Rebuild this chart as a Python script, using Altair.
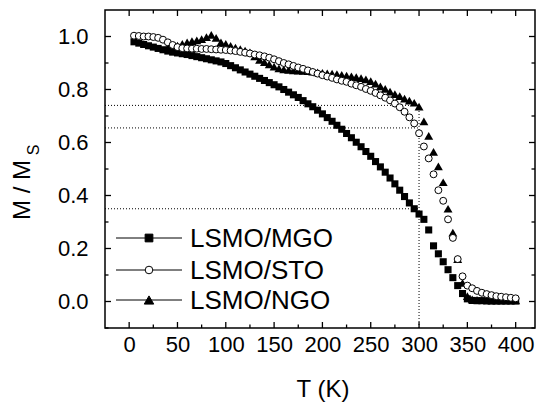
import altair as alt
import pandas as pd

# ---------------- data ----------------
T_MGO = [5, 10, 15, 20, 25, 30, 35, 40, 45, 50, 55, 60, 65, 70, 75, 80, 85, 90, 95, 100,
         105, 110, 115, 120, 125, 130, 135, 140, 145, 150, 155, 160, 165, 170, 175, 180,
         185, 190, 195, 200, 205, 210, 215, 220, 225, 230, 235, 240, 245, 250, 255, 260,
         265, 270, 275, 280, 285, 290, 295, 300, 305, 310, 315, 320, 325, 330, 335, 340,
         345, 350, 355, 360, 365, 370, 375, 380, 385, 390, 395, 400]
M_MGO = [0.980, 0.975, 0.970, 0.965, 0.960, 0.955, 0.950, 0.945, 0.941, 0.938, 0.935, 0.932,
         0.928, 0.924, 0.920, 0.916, 0.912, 0.908, 0.904, 0.898, 0.890, 0.882, 0.874, 0.866,
         0.858, 0.850, 0.842, 0.834, 0.826, 0.818, 0.810, 0.800, 0.790, 0.780, 0.770, 0.758,
         0.746, 0.735, 0.722, 0.708, 0.694, 0.680, 0.665, 0.650, 0.634, 0.618, 0.601, 0.584,
         0.566, 0.548, 0.528, 0.508, 0.488, 0.466, 0.444, 0.420, 0.396, 0.372, 0.350, 0.330,
         0.310, 0.270, 0.210, 0.180, 0.150, 0.120, 0.090, 0.060, 0.030, 0.010, 0.004, 0.003,
         0.003, 0.002, 0.002, 0.002, 0.002, 0.002, 0.002, 0.002]

T_STO = [5, 10, 15, 20, 25, 30, 35, 40, 45, 50, 55, 60, 65, 70, 75, 80, 85, 90, 95, 100,
         105, 110, 115, 120, 125, 130, 135, 140, 145, 150, 155, 160, 165, 170, 175, 180,
         185, 190, 195, 200, 205, 210, 215, 220, 225, 230, 235, 240, 245, 250, 255, 260,
         265, 270, 275, 280, 285, 290, 295, 300, 305, 310, 315, 320, 325, 330, 335, 340,
         345, 350, 355, 360, 365, 370, 375, 380, 385, 390, 395, 400]
M_STO = [1.003, 1.002, 1.000, 1.000, 0.998, 0.995, 0.988, 0.978, 0.968, 0.960, 0.956, 0.955,
         0.954, 0.954, 0.953, 0.953, 0.952, 0.951, 0.950, 0.949, 0.947, 0.945, 0.942, 0.939,
         0.936, 0.932, 0.929, 0.925, 0.920, 0.914, 0.907, 0.900, 0.895, 0.889, 0.883, 0.878,
         0.872, 0.866, 0.860, 0.854, 0.849, 0.844, 0.838, 0.833, 0.829, 0.822, 0.816, 0.810,
         0.802, 0.795, 0.787, 0.778, 0.769, 0.759, 0.747, 0.733, 0.716, 0.695, 0.672, 0.635,
         0.585, 0.540, 0.480, 0.420, 0.380, 0.310, 0.240, 0.160, 0.095, 0.060, 0.050, 0.040,
         0.033, 0.028, 0.024, 0.020, 0.018, 0.016, 0.014, 0.012]

T_NGO = [40, 45, 50, 55, 60, 65, 70, 75, 80, 85, 90, 95, 100, 105, 110, 115, 120, 125, 130,
         135, 140, 145, 150, 155, 160, 165, 170, 175, 180, 185, 190, 195, 200, 205, 210,
         215, 220, 225, 230, 235, 240, 245, 250, 255, 260, 265, 270, 275, 280, 285, 290,
         295, 300, 305, 310, 315, 320, 325, 330, 335, 340, 345, 350, 355, 360, 365, 370,
         375, 380, 385, 390, 395, 400]
M_NGO = [0.958, 0.962, 0.966, 0.972, 0.978, 0.983, 0.985, 0.990, 0.998, 1.006, 0.995, 0.978,
         0.972, 0.965, 0.958, 0.952, 0.947, 0.940, 0.925, 0.912, 0.903, 0.895, 0.886, 0.880,
         0.876, 0.874, 0.872, 0.871, 0.870, 0.869, 0.867, 0.865, 0.863, 0.861, 0.860, 0.858,
         0.855, 0.852, 0.850, 0.847, 0.843, 0.838, 0.832, 0.822, 0.812, 0.802, 0.792, 0.783,
         0.775, 0.766, 0.758, 0.750, 0.735, 0.680, 0.625, 0.565, 0.510, 0.450, 0.350, 0.260,
         0.160, 0.070, 0.020, 0.008, 0.006, 0.005, 0.005, 0.004, 0.004, 0.004, 0.004, 0.004,
         0.004]

SERIES = ["LSMO/MGO", "LSMO/STO", "LSMO/NGO"]

X_TICKS = [0, 50, 100, 150, 200, 250, 300, 350, 400]
X_MINOR = [25, 75, 125, 175, 225, 275, 325, 375]
Y_TICKS = [0.0, 0.2, 0.4, 0.6, 0.8, 1.0]
Y_MINOR = [-0.1, 0.1, 0.3, 0.5, 0.7, 0.9]

REF_H = [0.74, 0.655, 0.35]   # dotted horizontal guides
REF_T = 300                   # dotted vertical guide

# ---------------- layout ----------------
W, H = 430, 318
FONT = "Liberation Sans"
xs = alt.Scale(domain=[-25, 420], nice=False, zero=False)
ys = alt.Scale(domain=[-0.1, 1.1], nice=False, zero=False)

SQ, CI, TR = 50, 48, 80

df_mgo = pd.DataFrame({"T": T_MGO, "M": M_MGO})
df_sto = pd.DataFrame({"T": T_STO, "M": M_STO})
df_ngo = pd.DataFrame({"T": T_NGO, "M": M_NGO})

x_axis = alt.Axis(values=X_TICKS, grid=False, ticks=False, domain=False,
                  labelFontSize=22, labelFont=FONT, labelColor="black",
                  labelPadding=6, title=None, labelFlush=False)
y_axis = alt.Axis(values=Y_TICKS, grid=False, ticks=False, domain=False, format=".1f",
                  labelFontSize=22, labelFont=FONT, labelColor="black",
                  labelPadding=17, title=None, labelFlush=False)

base_mgo = alt.Chart(df_mgo).mark_point(shape="square", filled=True, color="black",
                                        size=SQ, opacity=1).encode(
    x=alt.X("T:Q", scale=xs, axis=x_axis),
    y=alt.Y("M:Q", scale=ys, axis=y_axis),
)
base_ngo = alt.Chart(df_ngo).mark_point(shape="triangle-up", filled=True, color="black",
                                        size=TR, opacity=1).encode(
    x=alt.X("T:Q", scale=xs), y=alt.Y("M:Q", scale=ys))
base_sto = alt.Chart(df_sto).mark_point(shape="circle", filled=True, fill="white",
                                        stroke="black", strokeWidth=1, size=CI,
                                        opacity=1).encode(
    x=alt.X("T:Q", scale=xs), y=alt.Y("M:Q", scale=ys))

# dotted guides
df_h = pd.DataFrame({"y": REF_H, "x1": [-25] * 3, "x2": [REF_T] * 3})
guides_h = alt.Chart(df_h).mark_rule(color="black", strokeWidth=1, strokeDash=[1, 2]).encode(
    x=alt.X("x1:Q", scale=xs), x2="x2:Q", y=alt.Y("y:Q", scale=ys))
df_v = pd.DataFrame({"x": [REF_T], "y1": [-0.1], "y2": [max(REF_H)]})
guides_v = alt.Chart(df_v).mark_rule(color="black", strokeWidth=1, strokeDash=[1, 2]).encode(
    x=alt.X("x:Q", scale=xs), y=alt.Y("y1:Q", scale=ys), y2="y2:Q")

# inward ticks on all four sides
def xticks(vals, ln):
    d = pd.DataFrame({"t": vals})
    bot = alt.Chart(d).mark_rule(color="black", strokeWidth=1.3).encode(
        x=alt.X("t:Q", scale=xs), y=alt.value(H), y2=alt.value(H - ln))
    top = alt.Chart(d).mark_rule(color="black", strokeWidth=1.3).encode(
        x=alt.X("t:Q", scale=xs), y=alt.value(0), y2=alt.value(ln))
    return [bot, top]

def yticks(vals, ln):
    d = pd.DataFrame({"t": vals})
    lef = alt.Chart(d).mark_rule(color="black", strokeWidth=1.3).encode(
        y=alt.Y("t:Q", scale=ys), x=alt.value(0), x2=alt.value(ln))
    rig = alt.Chart(d).mark_rule(color="black", strokeWidth=1.3).encode(
        y=alt.Y("t:Q", scale=ys), x=alt.value(W), x2=alt.value(W - ln))
    return [lef, rig]

ticks = xticks(X_TICKS, 6) + xticks(X_MINOR, 3.5) + yticks(Y_TICKS, 6) + yticks(Y_MINOR, 3.5)

# legend (manual, line through symbol)
one = pd.DataFrame({"a": [0]})
legend_layers = []
shapes = [("square", "black", "black", SQ + 10), ("circle", "white", "black", CI + 10),
          ("triangle-up", "black", "black", TR + 10)]
rows_y = [228, 260, 290]
for lab, (shp, fill, strk, sz), ry in zip(SERIES, shapes, rows_y):
    legend_layers.append(alt.Chart(one).mark_rule(color="black", strokeWidth=1).encode(
        x=alt.value(11), x2=alt.value(77), y=alt.value(ry)))
    legend_layers.append(alt.Chart(one).mark_point(shape=shp, filled=True, fill=fill,
                                                   stroke=strk, strokeWidth=1, size=sz,
                                                   opacity=1).encode(
        x=alt.value(44), y=alt.value(ry)))
    legend_layers.append(alt.Chart(one).mark_text(text=lab, font=FONT, fontSize=26,
                                                  align="left", baseline="middle",
                                                  color="black").encode(
        x=alt.value(85), y=alt.value(ry + 1)))

# axis titles
xtitle = alt.Chart(one).mark_text(text="T (K)", font=FONT, fontSize=24, align="center",
                                  baseline="middle", color="black").encode(
    x=alt.value(218), y=alt.value(380))
ytitle = alt.Chart(one).mark_text(text="M / M", font=FONT, fontSize=24, align="center",
                                  baseline="middle", angle=270, color="black").encode(
    x=alt.value(-82), y=alt.value(180))
ysub = alt.Chart(one).mark_text(text="S", font=FONT, fontSize=16, align="center",
                                baseline="middle", angle=270, color="black").encode(
    x=alt.value(-71), y=alt.value(140))

chart = alt.layer(
    guides_h, guides_v, *ticks, base_mgo, base_ngo, base_sto, *legend_layers,
    xtitle, ytitle, ysub
).properties(
    width=W, height=H,
    autosize=alt.AutoSizeParams(type="none"),
    padding={"left": 105, "top": 10, "right": 3, "bottom": 76},
    background="white",
).configure_view(stroke="black", strokeWidth=1.5)

chart.save("out.html", embed_options={"renderer": "svg", "actions": False})
